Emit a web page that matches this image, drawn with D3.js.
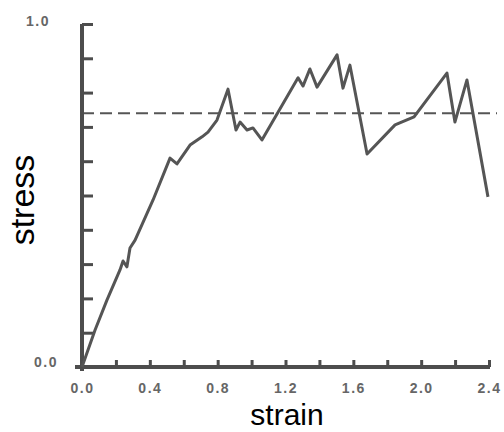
<!DOCTYPE html>
<html>
<head>
<meta charset="utf-8">
<script src="https://cdn.jsdelivr.net/npm/d3@7"></script>
<style>
  html, body { margin: 0; padding: 0; background: #fff; }
  svg { display: block; }
</style>
</head>
<body>
<svg id="chart" width="504" height="432"></svg>
<script>
// Stress–strain record
const strain = [0, 0.077, 0.147, 0.224, 0.242, 0.265, 0.283, 0.313, 0.419, 0.519, 0.560,
  0.637, 0.708, 0.743, 0.796, 0.861, 0.908, 0.932, 0.973, 1.008, 1.061, 1.274, 1.303,
  1.344, 1.386, 1.504, 1.539, 1.580, 1.681, 1.846, 1.958, 2.152, 2.199, 2.270, 2.394];
const stress = [0, 0.108, 0.195, 0.283, 0.309, 0.292, 0.347, 0.370, 0.487, 0.609, 0.592,
  0.647, 0.671, 0.685, 0.720, 0.810, 0.691, 0.714, 0.691, 0.697, 0.662, 0.843, 0.819,
  0.869, 0.816, 0.910, 0.813, 0.880, 0.621, 0.706, 0.729, 0.857, 0.714, 0.837, 0.496];
const referenceStress = 0.74;
const xMinorTicks = [0.2, 0.4, 0.6, 0.8, 1.0, 1.2, 1.4, 1.6, 1.8, 2.0, 2.2, 2.4];
const xTickLabels = [0.0, 0.4, 0.8, 1.2, 1.6, 2.0, 2.4];
const yTicks = [0.1, 0.2, 0.3, 0.4, 0.5, 0.6, 0.7, 0.8, 0.9, 1.0];
const yTickLabels = [0.0, 1.0];

const svg = d3.select("#chart");
const x = d3.scaleLinear().domain([0, 2.4]).range([82, 489]);
const y = d3.scaleLinear().domain([0, 1]).range([367, 24]);

const axisColor = "#4d4d4d";
const lineColor = "#555";
const labelColor = "#666";

// reference stress level (dashed)
svg.append("line")
  .attr("x1", x(0)).attr("x2", 497)
  .attr("y1", y(referenceStress)).attr("y2", y(referenceStress))
  .attr("stroke", lineColor).attr("stroke-width", 2)
  .attr("stroke-dasharray", "12,6");

// x axis: upward ticks every 0.2
const gx = svg.append("g").attr("transform", `translate(0,${y(0)})`)
  .call(d3.axisBottom(x).tickValues(xMinorTicks).tickSizeInner(-7).tickSizeOuter(0).tickFormat(""));
gx.select(".domain").remove();
gx.selectAll(".tick line").attr("stroke", axisColor).attr("stroke-width", 3);

// x labels every 0.4
const gxl = svg.append("g").attr("transform", `translate(0,${y(0)})`)
  .call(d3.axisBottom(x).tickValues(xTickLabels).tickSize(0).tickPadding(16).tickFormat(d3.format(".1f")));
gxl.select(".domain").remove();
gxl.selectAll("text")
  .attr("fill", labelColor).attr("font-family", "Liberation Sans, Arial, sans-serif")
  .attr("font-size", 14).attr("font-weight", "bold").attr("letter-spacing", "1.5px");

// y axis: inward ticks every 0.1
const gy = svg.append("g").attr("transform", `translate(${x(0)},0)`)
  .call(d3.axisRight(y).tickValues(yTicks).tickSizeInner(11).tickSizeOuter(0).tickFormat(""));
gy.select(".domain").remove();
gy.selectAll(".tick line").attr("stroke", axisColor).attr("stroke-width", 3);

// axis lines
svg.append("line").attr("x1", 75).attr("x2", x(2.4) + 1)
  .attr("y1", y(0)).attr("y2", y(0))
  .attr("stroke", axisColor).attr("stroke-width", 4);
svg.append("line").attr("x1", x(0)).attr("x2", x(0))
  .attr("y1", y(1)).attr("y2", y(0) + 4)
  .attr("stroke", axisColor).attr("stroke-width", 4);

// y labels at the ends of the axis
svg.append("g").selectAll("text").data(yTickLabels).join("text")
  .attr("x", d => d === 0 ? 58 : 50)
  .attr("y", d => y(d) + (d === 0 ? 0 : 2))
  .attr("text-anchor", "end")
  .attr("fill", labelColor).attr("font-family", "Liberation Sans, Arial, sans-serif")
  .attr("font-size", 14).attr("font-weight", "bold").attr("letter-spacing", "1.5px")
  .text(d => d3.format(".1f")(d));

// stress–strain curve
const pts = strain.map((s, i) => [s, stress[i]]);
svg.append("path")
  .datum(pts)
  .attr("fill", "none")
  .attr("stroke", lineColor)
  .attr("stroke-width", 3)
  .attr("stroke-linejoin", "round")
  .attr("d", d3.line().x(d => x(d[0])).y(d => y(d[1])));

// axis titles
svg.append("text")
  .attr("x", 287).attr("y", 425)
  .attr("text-anchor", "middle")
  .attr("font-family", "Liberation Sans, Arial, sans-serif")
  .attr("font-size", 30).attr("fill", "#000")
  .text("strain");
svg.append("text")
  .attr("transform", "translate(34,200) rotate(-90)")
  .attr("text-anchor", "middle")
  .attr("font-family", "Liberation Sans, Arial, sans-serif")
  .attr("font-size", 34).attr("fill", "#000")
  .text("stress");
</script>
</body>
</html>
